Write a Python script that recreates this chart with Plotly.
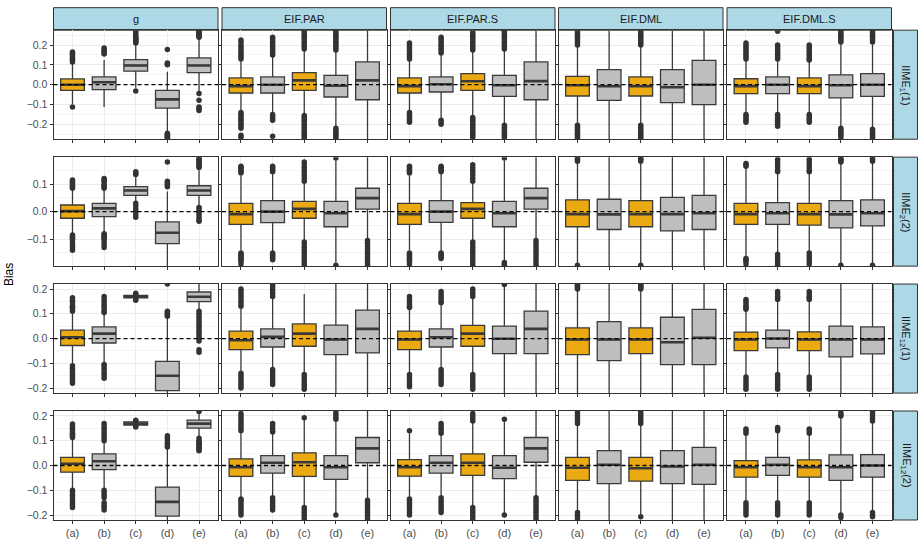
import plotly.graph_objects as go

# ---------------- data ----------------
METHODS = ["g", "EIF.PAR", "EIF.PAR.S", "EIF.DML", "EIF.DML.S"]
ESTIMANDS = ["IIME<sub>1</sub>(1)", "IIME<sub>2</sub>(2)", "IIME<sub>12</sub>(1)", "IIME<sub>12</sub>(2)"]
CATEGORIES = ["(a)", "(b)", "(c)", "(d)", "(e)"]
HIGHLIGHT = {"g": ["(a)"], "EIF.PAR": ["(a)", "(c)"], "EIF.PAR.S": ["(a)", "(c)"],
             "EIF.DML": ["(a)", "(c)"], "EIF.DML.S": ["(a)", "(c)"]}
REFERENCE_BIAS = 0.0

# box statistics per category: [lower whisker, q1, median, q3, upper whisker]
ROW1_STATS = {
    "g": [[-0.098, -0.029, 0.000, 0.029, 0.108], [-0.113, -0.025, 0.012, 0.039, 0.125],
          [-0.015, 0.068, 0.097, 0.126, 0.205], [-0.240, -0.118, -0.074, -0.029, 0.065],
          [-0.035, 0.061, 0.097, 0.135, 0.235]],
    "EIF.PAR": [[-0.135, -0.042, -0.007, 0.034, 0.125], [-0.140, -0.042, 0.000, 0.039, 0.140],
                [-0.150, -0.029, 0.022, 0.061, 0.170], [-0.215, -0.062, -0.005, 0.047, 0.165],
                [-0.300, -0.076, 0.022, 0.115, 0.300]],
    "EIF.PAR.S": [[-0.135, -0.042, -0.007, 0.034, 0.125], [-0.170, -0.037, 0.002, 0.039, 0.150],
                  [-0.155, -0.029, 0.017, 0.056, 0.165], [-0.200, -0.059, -0.003, 0.047, 0.170],
                  [-0.300, -0.076, 0.018, 0.115, 0.300]],
    "EIF.DML": [[-0.200, -0.057, -0.003, 0.042, 0.195], [-0.300, -0.079, -0.008, 0.076, 0.300],
                [-0.200, -0.057, -0.008, 0.039, 0.195], [-0.300, -0.091, -0.013, 0.076, 0.300],
                [-0.300, -0.101, 0.000, 0.123, 0.300]],
    "EIF.DML.S": [[-0.140, -0.045, -0.007, 0.030, 0.125], [-0.140, -0.045, 0.000, 0.039, 0.125],
                  [-0.140, -0.045, -0.007, 0.034, 0.118], [-0.215, -0.067, -0.003, 0.050, 0.210],
                  [-0.215, -0.059, 0.000, 0.056, 0.210]],
}
ROW1_OUT = {
    "g": [[0.115, 0.125, 0.13, 0.135, 0.145, 0.155, 0.16, 0.165, -0.113],
          [0.155, 0.16, 0.17, 0.175, 0.185],
          [0.21, 0.215, 0.22, 0.225, 0.23, 0.235, 0.24, 0.25, 0.26, 0.27, -0.032],
          [0.10, 0.105, 0.11, 0.177, -0.245, -0.25, -0.255, -0.26, -0.265, -0.27],
          [0.24, 0.245, 0.25, 0.255, 0.26, 0.265, 0.27, -0.045, -0.078, -0.112, -0.12, -0.13]],
    "EIF.PAR": [[0.13, 0.14, 0.15, 0.16, 0.17, 0.18, 0.19, 0.20, 0.215, 0.225, -0.14, -0.15, -0.16, -0.17,
                 -0.18, -0.19, -0.20, -0.21, -0.22, -0.255, -0.265],
                [0.15, 0.16, 0.17, 0.18, 0.19, 0.20, 0.21, 0.22, 0.23, 0.24, -0.15, -0.16, -0.17, -0.18, -0.26],
                [0.18, 0.19, 0.20, 0.21, 0.22, 0.23, 0.24, 0.25, 0.26, 0.27, -0.155, -0.165, -0.175, -0.185,
                 -0.195, -0.205, -0.215, -0.225, -0.235, -0.245, -0.255, -0.265, -0.275],
                [0.175, 0.185, 0.195, 0.205, 0.215, 0.225, 0.235, 0.245, 0.255, 0.265, 0.275,
                 -0.22, -0.23, -0.24, -0.25, -0.26, -0.27],
                []],
    "EIF.PAR.S": [[0.13, 0.14, 0.15, 0.16, 0.17, 0.18, 0.19, 0.20, 0.21, -0.14, -0.15, -0.16, -0.17, -0.18, -0.19],
                  [0.16, 0.17, 0.18, 0.19, 0.20, 0.21, 0.22, 0.23, 0.24, -0.18, -0.19, -0.20],
                  [0.175, 0.185, 0.195, 0.205, 0.215, 0.225, 0.235, 0.245, 0.255, 0.265,
                   -0.165, -0.175, -0.185, -0.195, -0.205, -0.215, -0.225, -0.235, -0.245, -0.255, -0.265],
                  [0.18, 0.19, 0.20, 0.21, 0.22, 0.23, 0.24, 0.25, 0.26, 0.27, 0.275,
                   -0.205, -0.215, -0.225, -0.235, -0.245, -0.255, -0.265],
                  []],
    "EIF.DML": [[0.20, 0.21, 0.22, 0.23, 0.24, 0.25, 0.26, 0.27, -0.205, -0.215, -0.225, -0.235, -0.245,
                 -0.255, -0.265, -0.275],
                [],
                [0.20, 0.21, 0.22, 0.23, 0.24, 0.25, 0.26, 0.27, -0.205, -0.215, -0.225, -0.235, -0.245,
                 -0.255, -0.265, -0.275],
                [], []],
    "EIF.DML.S": [[0.13, 0.14, 0.15, 0.16, 0.17, 0.18, 0.19, 0.20, 0.21, -0.15, -0.16, -0.17, -0.18, -0.19],
                  [0.13, 0.14, 0.15, 0.16, 0.17, 0.18, 0.19, 0.20, 0.27, -0.15, -0.16, -0.17, -0.18, -0.19,
                   -0.20, -0.21],
                  [0.125, 0.13, 0.14, 0.15, 0.16, 0.17, 0.18, 0.19, 0.20, -0.15, -0.16, -0.17, -0.18, -0.19],
                  [0.215, 0.225, 0.235, 0.245, 0.255, 0.265, 0.275, -0.22, -0.23, -0.24, -0.25, -0.26, -0.275],
                  [0.215, 0.225, 0.235, 0.245, 0.255, 0.265, 0.275, -0.225, -0.235, -0.245, -0.255, -0.265,
                   -0.275]],
}

ROW2_STATS = {
    "g": [[-0.082, -0.024, 0.002, 0.024, 0.080], [-0.078, -0.018, 0.012, 0.030, 0.080],
          [0.035, 0.059, 0.077, 0.091, 0.125], [-0.250, -0.116, -0.077, -0.037, 0.073],
          [0.022, 0.059, 0.077, 0.094, 0.150]],
    "EIF.PAR": [[-0.140, -0.046, -0.009, 0.030, 0.130], [-0.145, -0.040, 0.000, 0.040, 0.140],
                [-0.105, -0.024, 0.010, 0.037, 0.105], [-0.185, -0.055, -0.006, 0.037, 0.185],
                [-0.100, 0.009, 0.049, 0.085, 0.250]],
    "EIF.PAR.S": [[-0.140, -0.046, -0.009, 0.030, 0.130], [-0.145, -0.039, 0.000, 0.040, 0.140],
                  [-0.105, -0.024, 0.010, 0.033, 0.105], [-0.180, -0.055, -0.006, 0.037, 0.185],
                  [-0.100, 0.009, 0.049, 0.085, 0.250]],
    "EIF.DML": [[-0.190, -0.055, -0.009, 0.043, 0.178], [-0.250, -0.065, -0.010, 0.045, 0.250],
                [-0.190, -0.055, -0.009, 0.040, 0.178], [-0.250, -0.070, -0.009, 0.052, 0.250],
                [-0.250, -0.065, -0.006, 0.059, 0.250]],
    "EIF.DML.S": [[-0.165, -0.046, -0.009, 0.030, 0.160], [-0.150, -0.046, -0.006, 0.033, 0.140],
                  [-0.150, -0.049, -0.009, 0.030, 0.140], [-0.190, -0.059, -0.010, 0.040, 0.175],
                  [-0.190, -0.052, -0.006, 0.043, 0.178]],
}
ROW2_OUT = {
    "g": [[0.085, 0.09, 0.095, 0.10, 0.105, 0.11, 0.115, -0.085, -0.09, -0.095, -0.10, -0.11, -0.12, -0.13, -0.14],
          [0.085, 0.09, 0.095, 0.10, 0.11, 0.115, 0.12, -0.08, -0.085, -0.09, -0.095, -0.10, -0.11, -0.12, -0.13],
          [0.135, 0.14, 0.145, 0.03, 0.02, 0.01, 0.0, -0.01, -0.02],
          [0.09, 0.095, 0.10, 0.105, 0.11, 0.18],
          [0.16, 0.165, 0.17, 0.175, 0.18, 0.185, 0.19, 0.195, 0.015, 0.01, 0.0, -0.01, -0.02, -0.03, -0.035]],
    "EIF.PAR": [[0.14, 0.145, 0.15, 0.155, 0.16, 0.165, -0.15, -0.155, -0.16, -0.165, -0.17, -0.175, -0.18, -0.19],
                [0.145, 0.15, 0.155, 0.16, 0.165, -0.15, -0.155, -0.16, -0.165, -0.17, -0.175],
                [0.11, 0.12, 0.13, 0.14, 0.15, 0.16, 0.17, 0.18, -0.11, -0.12, -0.13, -0.14, -0.15, -0.16,
                 -0.17, -0.18, -0.19, -0.20],
                [0.195, -0.195],
                [-0.105, -0.115, -0.125, -0.135, -0.145, -0.155, -0.165, -0.175, -0.185, -0.195]],
    "EIF.PAR.S": [[0.14, 0.145, 0.15, 0.155, 0.16, 0.165, -0.15, -0.155, -0.16, -0.165, -0.17, -0.175, -0.18, -0.19],
                  [0.145, 0.15, 0.155, 0.16, 0.165, -0.15, -0.155, -0.16, -0.165, -0.17],
                  [0.11, 0.12, 0.13, 0.14, 0.15, 0.16, 0.17, -0.11, -0.12, -0.13, -0.14, -0.15, -0.16,
                   -0.17, -0.18, -0.19, -0.20],
                  [0.195, -0.185, -0.19, -0.195],
                  [-0.105, -0.115, -0.125, -0.135, -0.145, -0.155, -0.165, -0.175, -0.185, -0.195]],
    "EIF.DML": [[0.183, 0.19, 0.195, -0.195], [], [0.183, 0.19, 0.195, -0.195], [], []],
    "EIF.DML.S": [[0.165, 0.17, 0.175, -0.17, -0.175, -0.18, -0.19],
                  [0.145, 0.15, 0.16, 0.17, 0.18, 0.19, -0.155, -0.165, -0.175, -0.185, -0.195],
                  [0.145, 0.15, 0.16, 0.17, 0.18, 0.19, -0.15, -0.16, -0.17, -0.18, -0.19],
                  [0.18, 0.185, 0.19, 0.195, -0.195],
                  [0.183, 0.19, 0.195, -0.195]],
}

ROW3_STATS = {
    "g": [[-0.105, -0.028, 0.005, 0.034, 0.100], [-0.100, -0.018, 0.020, 0.047, 0.100],
          [0.158, 0.164, 0.169, 0.174, 0.180], [-0.300, -0.210, -0.150, -0.092, 0.085],
          [0.115, 0.149, 0.169, 0.188, 0.230]],
    "EIF.PAR": [[-0.130, -0.045, -0.007, 0.030, 0.120], [-0.120, -0.034, 0.007, 0.039, 0.160],
                [-0.140, -0.031, 0.020, 0.059, 0.180], [-0.300, -0.065, -0.004, 0.054, 0.300],
                [-0.300, -0.058, 0.039, 0.115, 0.300]],
    "EIF.PAR.S": [[-0.135, -0.045, -0.004, 0.030, 0.118], [-0.120, -0.034, 0.005, 0.039, 0.140],
                  [-0.140, -0.031, 0.020, 0.053, 0.165], [-0.300, -0.061, -0.001, 0.050, 0.210],
                  [-0.300, -0.061, 0.039, 0.111, 0.300]],
    "EIF.DML": [[-0.300, -0.065, -0.004, 0.043, 0.195], [-0.300, -0.089, -0.004, 0.068, 0.300],
                [-0.300, -0.061, -0.004, 0.043, 0.195], [-0.300, -0.105, -0.015, 0.086, 0.300],
                [-0.300, -0.105, 0.003, 0.118, 0.300]],
    "EIF.DML.S": [[-0.150, -0.049, -0.004, 0.026, 0.112], [-0.140, -0.038, 0.000, 0.034, 0.150],
                  [-0.150, -0.049, -0.004, 0.027, 0.150], [-0.300, -0.074, -0.004, 0.050, 0.300],
                  [-0.300, -0.062, -0.004, 0.047, 0.300]],
}
ROW3_OUT = {
    "g": [[0.11, 0.12, 0.125, 0.13, 0.14, 0.15, 0.155, 0.165, -0.11, -0.12, -0.13, -0.14, -0.15, -0.16, -0.17, -0.18],
          [0.105, 0.11, 0.12, 0.13, 0.14, 0.15, 0.16, 0.17, -0.105, -0.11, -0.12, -0.13, -0.14, -0.15, -0.16],
          [0.155, 0.16, 0.178, 0.183],
          [0.09, 0.095, 0.10, 0.105, 0.11, 0.22],
          [0.11, 0.10, 0.09, 0.08, 0.07, 0.06, 0.05, 0.04, 0.03, 0.02, 0.01, 0.0, -0.01, -0.045, -0.055]],
    "EIF.PAR": [[0.13, 0.14, 0.15, 0.16, 0.17, 0.18, 0.19, 0.20, -0.14, -0.15, -0.16, -0.17, -0.18, -0.19, -0.20],
                [0.17, 0.18, 0.19, 0.20, 0.21, 0.22, -0.125, -0.135, -0.145, -0.155, -0.165, -0.175, -0.185],
                [-0.145, -0.155, -0.165, -0.175, -0.185, -0.195, -0.205],
                [], []],
    "EIF.PAR.S": [[0.125, 0.13, 0.14, 0.15, 0.16, 0.17, -0.145, -0.155, -0.165, -0.175, -0.185, -0.195],
                  [0.145, 0.15, 0.16, 0.17, 0.18, 0.19, -0.125, -0.135, -0.145, -0.155, -0.165, -0.175, -0.185],
                  [0.17, 0.18, 0.19, 0.20, -0.145, -0.155, -0.165, -0.175, -0.185, -0.195, -0.205],
                  [0.218],
                  []],
    "EIF.DML": [[0.20, 0.205, 0.21, 0.215, 0.22], [], [0.20, 0.205, 0.21, 0.215, 0.22], [], []],
    "EIF.DML.S": [[0.118, 0.125, 0.13, 0.14, 0.15, 0.158, -0.155, -0.165, -0.175, -0.185, -0.195, -0.205],
                  [0.158, 0.165, 0.17, 0.18, 0.19, -0.145, -0.155, -0.165, -0.175, -0.185, -0.195, -0.205],
                  [0.158, 0.165, 0.17, 0.18, 0.19, -0.155, -0.165, -0.175, -0.185, -0.195, -0.205],
                  [], []],
}

ROW4_STATS = {
    "g": [[-0.095, -0.027, 0.007, 0.033, 0.105], [-0.095, -0.017, 0.017, 0.047, 0.095],
          [0.158, 0.163, 0.169, 0.176, 0.180], [-0.300, -0.204, -0.147, -0.087, 0.068],
          [0.115, 0.151, 0.169, 0.183, 0.213]],
    "EIF.PAR": [[-0.130, -0.044, -0.007, 0.027, 0.130], [-0.120, -0.031, 0.011, 0.040, 0.130],
                [-0.165, -0.044, 0.013, 0.051, 0.185], [-0.195, -0.056, -0.007, 0.040, 0.180],
                [-0.135, 0.011, 0.069, 0.113, 0.300]],
    "EIF.PAR.S": [[-0.130, -0.043, -0.007, 0.024, 0.130], [-0.120, -0.031, 0.011, 0.040, 0.125],
                  [-0.165, -0.040, 0.011, 0.047, 0.175], [-0.195, -0.053, -0.009, 0.040, 0.180],
                  [-0.125, 0.013, 0.069, 0.113, 0.300]],
    "EIF.DML": [[-0.185, -0.060, -0.009, 0.033, 0.165], [-0.300, -0.073, 0.003, 0.060, 0.300],
                [-0.200, -0.063, -0.011, 0.033, 0.165], [-0.300, -0.073, -0.004, 0.060, 0.300],
                [-0.300, -0.076, 0.003, 0.073, 0.300]],
    "EIF.DML.S": [[-0.140, -0.047, -0.007, 0.020, 0.125], [-0.140, -0.040, 0.003, 0.033, 0.135],
                  [-0.140, -0.047, -0.007, 0.023, 0.125], [-0.200, -0.060, -0.007, 0.043, 0.195],
                  [-0.185, -0.047, 0.000, 0.044, 0.178]],
}
ROW4_OUT = {
    "g": [[0.113, 0.12, 0.125, 0.13, 0.14, 0.15, 0.16, 0.167, -0.10, -0.11, -0.12, -0.13, -0.14, -0.15, -0.16, -0.17],
          [0.10, 0.11, 0.12, 0.13, 0.14, 0.15, 0.16, 0.17, -0.10, -0.11, -0.12, -0.13, -0.15, -0.16, -0.17, -0.18],
          [0.155, 0.16, 0.18, 0.183],
          [0.075, 0.08, 0.09, 0.10, 0.11, 0.12],
          [0.218, 0.11, 0.10, 0.095, 0.09, 0.085, 0.08, 0.075, 0.07, 0.065, 0.06]],
    "EIF.PAR": [[0.14, 0.15, 0.16, 0.17, 0.18, 0.19, 0.20, 0.21, -0.135, -0.14, -0.15, -0.16, -0.17, -0.18, -0.19, -0.20],
                [0.135, 0.14, 0.15, 0.16, 0.17, -0.13, -0.14, -0.15, -0.16, -0.17, -0.18],
                [0.193, -0.17, -0.18, -0.19, -0.20, -0.21, -0.22],
                [0.187, 0.195, 0.205, 0.213, -0.20],
                [-0.14, -0.15, -0.16, -0.17, -0.18, -0.19, -0.20, -0.21, -0.22]],
    "EIF.PAR.S": [[0.14, -0.135, -0.14, -0.15, -0.16, -0.17, -0.18, -0.19, -0.20],
                  [0.13, 0.14, 0.15, 0.16, 0.17, -0.13, -0.14, -0.15, -0.16, -0.17, -0.18, -0.19],
                  [0.18, 0.19, 0.20, 0.21, -0.17, -0.18, -0.19, -0.20, -0.21, -0.22],
                  [0.187, -0.20],
                  [-0.13, -0.14, -0.15, -0.16, -0.17, -0.18, -0.19, -0.20, -0.21, -0.22]],
    "EIF.DML": [[0.17, 0.18, 0.19, 0.20, 0.21, 0.22, -0.19, -0.20, -0.21, -0.22],
                [],
                [0.17, 0.18, 0.19, 0.20, 0.21, 0.22, -0.207],
                [], []],
    "EIF.DML.S": [[0.13, 0.14, 0.147, -0.15, -0.16, -0.17, -0.18, -0.19, -0.20],
                  [0.14, 0.147, 0.153, -0.15, -0.16, -0.17, -0.18, -0.19, -0.20],
                  [0.13, 0.14, 0.147, -0.15, -0.16, -0.17, -0.18, -0.19, -0.20],
                  [0.20, 0.205, 0.213, -0.20, -0.21],
                  [0.18, 0.19, 0.20, 0.21, 0.22, -0.19, -0.20, -0.207]],
}

ROW_STATS = [ROW1_STATS, ROW2_STATS, ROW3_STATS, ROW4_STATS]
ROW_OUT = [ROW1_OUT, ROW2_OUT, ROW3_OUT, ROW4_OUT]

# ---------------- layout / style ----------------
W, H = 924, 546
COL_LEFT = [53.5, 222.0, 390.5, 558.5, 727.0]
COL_W = 164.5
ROW_TOP = [29.3, 156.7, 284.1, 411.5]
ROW_H = 109.4
ROW_YLIM = [0.275, 0.198, 0.22, 0.22]
STRIP_TOP = (6.7, 29.3)
STRIP_RIGHT = (893.5, 917.5)

ORANGE = "#ECAA12"
GREY = "#BEBEBE"
EDGE = "#3A3A3A"
FONT = "Liberation Sans, Arial, sans-serif"


def px(x):
    return x / W


def py(y):
    return 1 - y / H


fig = go.Figure()
layout = {}
shapes = []
annotations = []

for r in range(4):
    for c, m in enumerate(METHODS):
        k = r * 5 + c + 1
        xa = "x" if k == 1 else f"x{k}"
        ya = "y" if k == 1 else f"y{k}"
        xname = "xaxis" if k == 1 else f"xaxis{k}"
        yname = "yaxis" if k == 1 else f"yaxis{k}"
        layout[xname] = dict(
            domain=[px(COL_LEFT[c]), px(COL_LEFT[c] + COL_W)], anchor=ya,
            type="category", categoryorder="array", categoryarray=CATEGORIES,
            range=[-0.6, 4.6], showgrid=True, gridcolor="#EBEBEB", gridwidth=1,
            showline=True, mirror=True, linecolor="#333333", linewidth=1,
            ticks="outside", ticklen=3, tickwidth=1, tickcolor="#333333",
            showticklabels=(r == 3), tickfont=dict(size=11, color="#4D4D4D", family=FONT),
            zeroline=False, fixedrange=True,
        )
        lim = ROW_YLIM[r]
        layout[yname] = dict(
            domain=[py(ROW_TOP[r] + ROW_H), py(ROW_TOP[r])], anchor=xa,
            range=[-lim, lim], dtick=0.1, tick0=0, tickformat=".1f",
            showgrid=True, gridcolor="#EBEBEB", gridwidth=1,
            minor=dict(dtick=0.05, tick0=0.05, showgrid=True, gridcolor="#F4F4F4", gridwidth=0.6),
            showline=True, mirror=True, linecolor="#333333", linewidth=1,
            ticks="outside", ticklen=3, tickwidth=1, tickcolor="#333333",
            showticklabels=(c == 0), tickfont=dict(size=10.5, color="#4D4D4D", family=FONT),
            zeroline=False, fixedrange=True,
        )
        stats = ROW_STATS[r][m]
        outs = ROW_OUT[r][m]
        for i, cat in enumerate(CATEGORIES):
            lf, q1, med, q3, uf = stats[i]
            fill = ORANGE if cat in HIGHLIGHT[m] else GREY
            fig.add_trace(go.Box(
                x=[cat], q1=[q1], median=[med], q3=[q3], lowerfence=[lf], upperfence=[uf],
                width=0.75, whiskerwidth=0, fillcolor=fill,
                line=dict(color=EDGE, width=1.3), boxpoints=False,
                xaxis=xa, yaxis=ya, showlegend=False, hoverinfo="skip",
            ))
            # thicker median bar (ggplot draws the median with double width)
            fig.add_trace(go.Box(
                x=[cat], q1=[med], median=[med], q3=[med], lowerfence=[med], upperfence=[med],
                width=0.75, whiskerwidth=0, fillcolor=EDGE,
                line=dict(color=EDGE, width=2.6), boxpoints=False,
                xaxis=xa, yaxis=ya, showlegend=False, hoverinfo="skip",
            ))
        ox, oy = [], []
        for i, cat in enumerate(CATEGORIES):
            ox += [cat] * len(outs[i])
            oy += outs[i]
        fig.add_trace(go.Scatter(
            x=ox, y=oy, mode="markers", cliponaxis=True,
            marker=dict(size=5.5, color="#333333", line=dict(width=0)),
            xaxis=xa, yaxis=ya, showlegend=False, hoverinfo="skip",
        ))
        shapes.append(dict(
            type="line", xref=f"{xa} domain", yref=ya, x0=0, x1=1,
            y0=REFERENCE_BIAS, y1=REFERENCE_BIAS, layer="above",
            line=dict(color="black", width=1.3, dash="4px,3px"),
        ))

# top strips
for c, m in enumerate(METHODS):
    shapes.append(dict(type="rect", xref="paper", yref="paper",
                       x0=px(COL_LEFT[c]), x1=px(COL_LEFT[c] + COL_W),
                       y0=py(STRIP_TOP[1]), y1=py(STRIP_TOP[0]),
                       fillcolor="#ADD8E6", line=dict(color="#333333", width=1), layer="below"))
    annotations.append(dict(xref="paper", yref="paper", x=px(COL_LEFT[c] + COL_W / 2),
                            y=py(sum(STRIP_TOP) / 2), text=m, showarrow=False,
                            xanchor="center", yanchor="middle",
                            font=dict(size=11, color="#1A1A1A", family=FONT)))
# right strips
for r, lab in enumerate(ESTIMANDS):
    shapes.append(dict(type="rect", xref="paper", yref="paper",
                       x0=px(STRIP_RIGHT[0]), x1=px(STRIP_RIGHT[1]),
                       y0=py(ROW_TOP[r] + ROW_H), y1=py(ROW_TOP[r]),
                       fillcolor="#ADD8E6", line=dict(color="#333333", width=1), layer="below"))
    annotations.append(dict(xref="paper", yref="paper", x=px(sum(STRIP_RIGHT) / 2),
                            y=py(ROW_TOP[r] + ROW_H / 2), text=lab, showarrow=False,
                            textangle=90, xanchor="center", yanchor="middle",
                            font=dict(size=11, color="#1A1A1A", family=FONT)))
# y-axis title
annotations.append(dict(xref="paper", yref="paper", x=px(9), y=py((ROW_TOP[0] + ROW_TOP[3] + ROW_H) / 2),
                        text="Bias", showarrow=False, textangle=-90,
                        xanchor="center", yanchor="middle",
                        font=dict(size=12, color="black", family=FONT)))

fig.update_layout(
    width=W, height=H, margin=dict(l=0, r=0, t=0, b=0),
    paper_bgcolor="white", plot_bgcolor="white",
    boxmode="overlay", showlegend=False,
    shapes=shapes, annotations=annotations,
    font=dict(family=FONT),
    **layout,
)

fig.write_html("out.html", config={"displayModeBar": False})
